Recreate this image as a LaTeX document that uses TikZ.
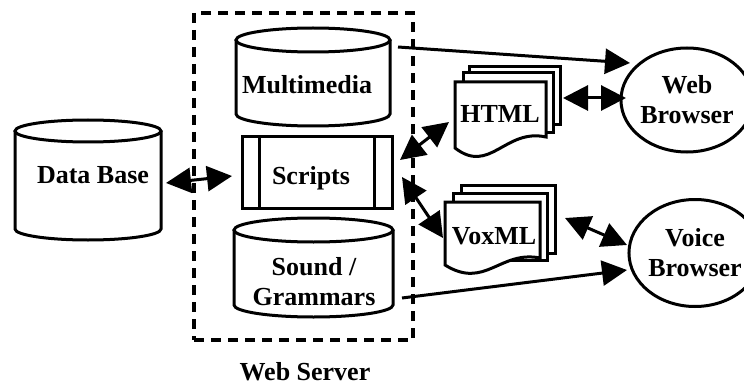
\documentclass[tikz,border=0pt]{standalone}
\usepackage{fontspec}
\setmainfont{Liberation Serif}
\usetikzlibrary{arrows.meta,shapes.geometric,calc}
\newcommand\cylshape[5]{% x1,x2,ytop,ybot,ry
  \filldraw[shapeline,fill=white] ({#1},{#3+#5}) -- ({#1},{#4-#5})
    arc[start angle=180,end angle=0,x radius={(#2-#1)/2},y radius={#5}] -- ({#2},{#3+#5});
  \draw[shapeline] ({(#1+#2)/2},{#3+#5}) ellipse[x radius={(#2-#1)/2},y radius={#5}];
}
\begin{document}
\begin{tikzpicture}[x=1pt,y=-1pt,
  shapeline/.style={line width=3pt,line join=miter},
  doc/.style={line width=3pt,fill=white,draw=black,line join=miter},
  lbl/.style={font=\bfseries\fontsize{26}{30}\selectfont,inner sep=0pt,align=center},
  conn/.style={line width=3pt,-{Triangle[length=25pt,width=25pt]}},
  dconn/.style={line width=3pt,{Triangle[length=25pt,width=25pt]}-{Triangle[length=25pt,width=25pt]}}]
\fill[white] (0,0) rectangle (744,385);
\useasboundingbox (0,0) rectangle (744,385);

% Web server container
\node[draw,line width=3.2pt,dash pattern=on 10pt off 7pt,minimum width=219pt,minimum height=327pt,inner sep=0pt] (ws) at (303.5,176.5) {};
\node[lbl] (wslbl) at (305,372) {Web Server};

% Data Base
\cylshape{15}{161}{120}{240}{11}
\node[lbl] (db) at (93,175) {Data Base};

% Multimedia
\cylshape{236}{390}{28}{126}{12}
\node[lbl] (mm) at (307,85) {Multimedia};

% Scripts
\node[draw,shapeline,minimum width=150pt,minimum height=71pt,inner sep=0pt] (sc) at (317,172.5) {};
\draw[shapeline] ($(sc.north west)+(19,0)$) -- ($(sc.south west)+(19,0)$);
\draw[shapeline] ($(sc.north east)+(-19,0)$) -- ($(sc.south east)+(-19,0)$);
\node[lbl,text depth=0pt] (sclbl) at (311,175) {Scripts};

% Sound / Grammars
\cylshape{234}{393}{218}{317}{12}
\node[lbl] (snd) at (314,282) {Sound /\\Grammars};

% HTML stack
\filldraw[doc] (469,67) rectangle (560,125);
\filldraw[doc] (463,73) rectangle (553,133);
\filldraw[doc] (455,82) -- (546,82) -- (546,137) .. controls (505,128) and (490,175) .. (455,148) -- cycle;
\node[lbl] (html) at (500,114) {HTML};

% VoxML stack
\filldraw[doc] (461,185) rectangle (555,253);
\filldraw[doc] (453,193) rectangle (547,260);
\filldraw[doc] (445,202) -- (540,202) -- (540,258) .. controls (500,250) and (485,290) .. (445,265) -- cycle;
\node[lbl] (vox) at (494,236) {VoxML};

% Browsers
\node[draw,ellipse,line width=3pt,minimum width=114pt,minimum height=104pt,inner sep=0pt,lbl] (web) at (687,100) {Web\\Browser};
\node[draw,ellipse,line width=3pt,minimum width=124pt,minimum height=107pt,inner sep=0pt,lbl] (voice) at (695,253) {Voice\\Browser};

% connector end points
\coordinate (mmout) at (398,47);
\coordinate (webin) at (630,63);
\coordinate (htmlr) at (563,98);
\coordinate (webl) at (626,98);
\coordinate (sch) at (400,160);
\coordinate (htmll) at (449,122);
\coordinate (scv) at (402,177);
\coordinate (voxl) at (443,238);
\coordinate (voxr) at (565,218);
\coordinate (voicel) at (627,245);
\coordinate (sndout) at (402,298);
\coordinate (voicein) at (627,270);
\coordinate (dbr) at (166,183);
\coordinate (scl) at (232,176);

\draw[conn] (mmout) -- (webin);
\draw[dconn] (htmlr) -- (webl);
\draw[dconn] (sch) -- (htmll);
\draw[dconn] (scv) -- (voxl);
\draw[dconn] (voxr) -- (voicel);
\draw[conn] (sndout) -- (voicein);
\draw[dconn] (dbr) -- (scl);
\end{tikzpicture}
\end{document}
